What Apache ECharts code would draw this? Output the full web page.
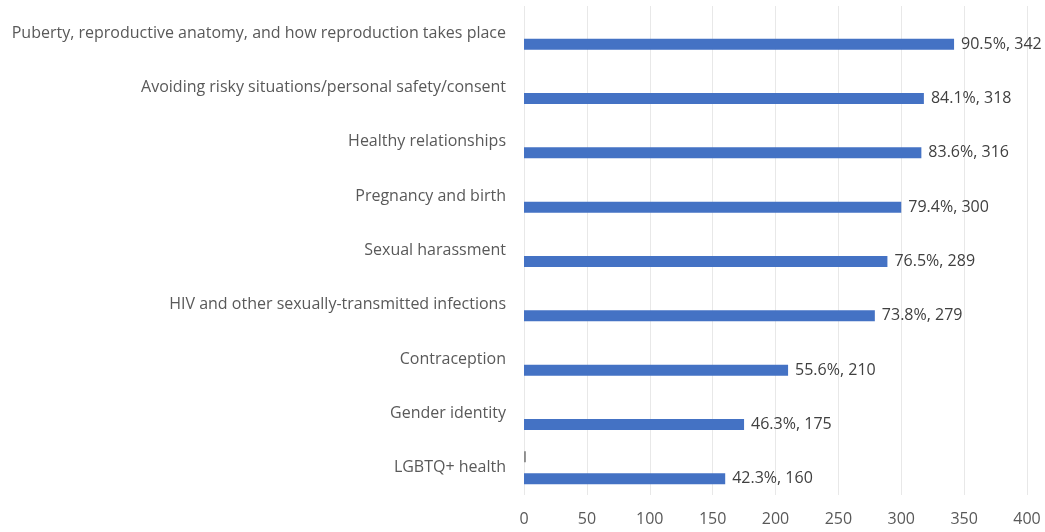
<!DOCTYPE html>
<html>
<head>
<meta charset="utf-8">
<script src="https://cdn.jsdelivr.net/npm/echarts@6/dist/echarts.min.js"></script>
<style>
  html, body { margin: 0; padding: 0; background: #fff; }
  #chart { width: 1045px; height: 532px; }
</style>
</head>
<body>
<div id="chart"></div>
<script>
// Topics, top to bottom
const topics = [
  'Puberty, reproductive anatomy, and how reproduction takes place',
  'Avoiding risky situations/personal safety/consent',
  'Healthy relationships',
  'Pregnancy and birth',
  'Sexual harassment',
  'HIV and other sexually-transmitted infections',
  'Contraception',
  'Gender identity',
  'LGBTQ+ health'
];
// Number of respondents per topic
const counts = [342, 318, 316, 300, 289, 279, 210, 175, 160];
// Share of respondents per topic (%)
const percents = [90.5, 84.1, 83.6, 79.4, 76.5, 73.8, 55.6, 46.3, 42.3];
// Second (nearly empty) series in each band
const otherCounts = [0, 0, 0, 0, 0, 0, 0, 0, 1.5];
const xTicks = [0, 400, 50];

const chart = echarts.init(document.getElementById('chart'));
const font = 'Open Sans';
chart.setOption({
  animation: false,
  grid: { left: 524, right: 18, top: 6, bottom: 37 },
  xAxis: {
    type: 'value',
    min: xTicks[0], max: xTicks[1], interval: xTicks[2],
    axisLine: { show: false },
    axisTick: { show: false },
    axisLabel: { color: '#595959', fontFamily: font, fontSize: 16, margin: 16 },
    splitLine: { lineStyle: { color: '#e8e8e8', width: 1 } }
  },
  yAxis: {
    type: 'category',
    data: topics,
    inverse: true,
    axisLine: { show: false },
    axisTick: { show: false },
    axisLabel: { color: '#595959', fontFamily: font, fontSize: 16, margin: 18 }
  },
  series: [
    {
      type: 'bar',
      data: otherCounts,
      barWidth: 11,
      barGap: '100%',
      itemStyle: { color: '#8c8c8c' }
    },
    {
      type: 'bar',
      data: counts,
      barWidth: 11,
      itemStyle: { color: '#4472C4' },
      label: {
        show: true,
        position: 'right',
        distance: 7,
        color: '#404040',
        fontFamily: font,
        fontSize: 16,
        formatter: p => percents[p.dataIndex].toFixed(1) + '%, ' + counts[p.dataIndex]
      }
    }
  ]
});
</script>
</body>
</html>
